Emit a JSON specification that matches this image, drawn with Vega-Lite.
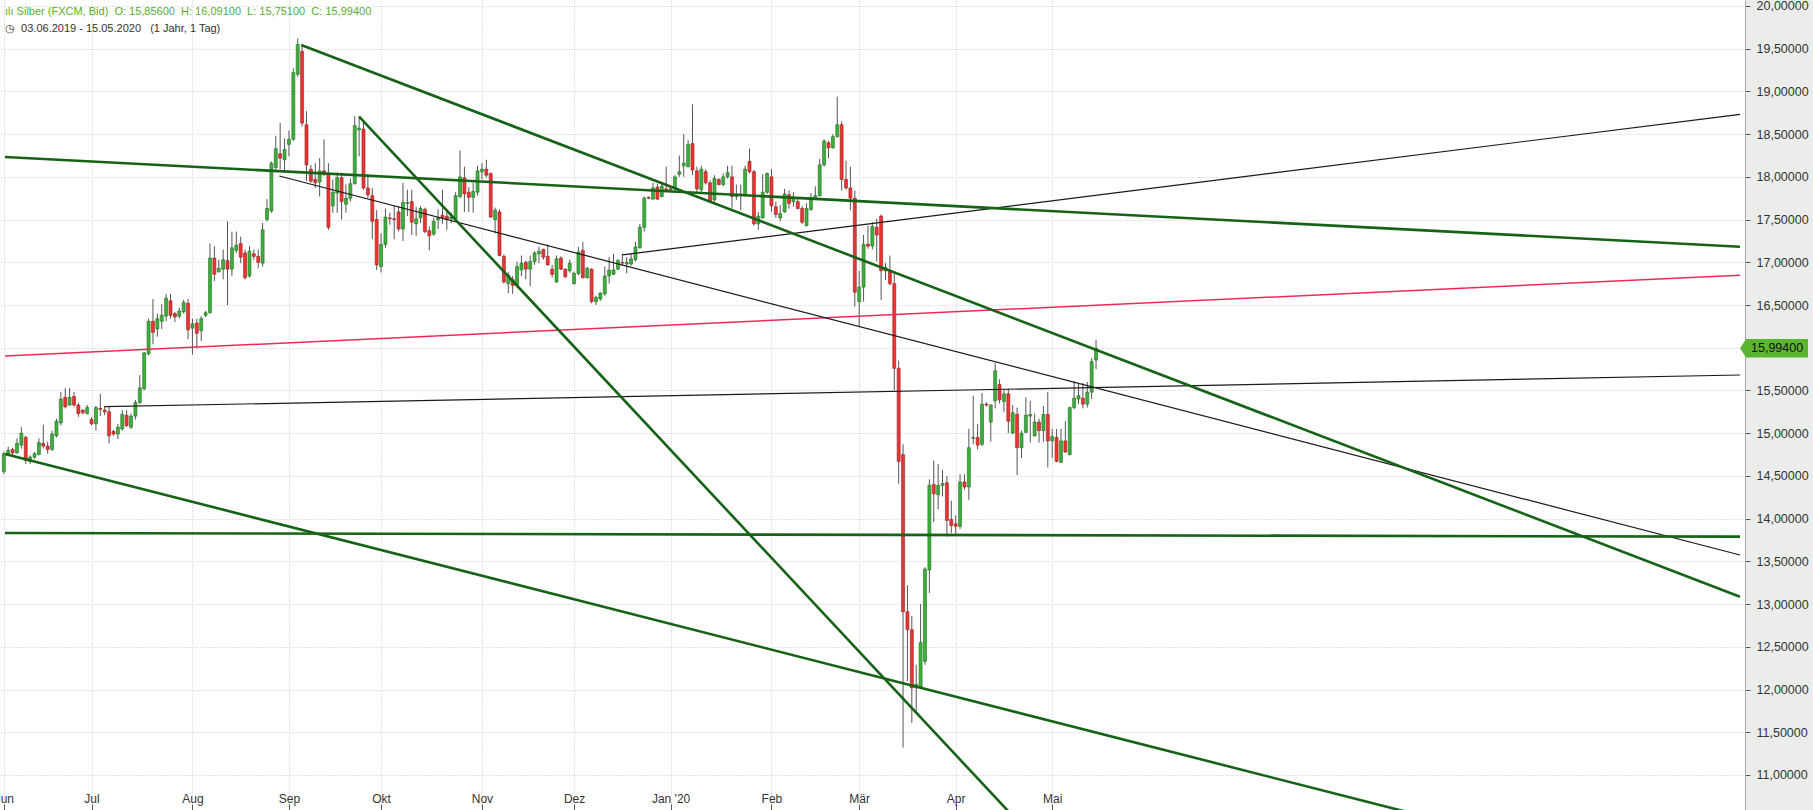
{
"$schema": "https://vega.github.io/schema/vega-lite/v6.json",
"width": 1745, "height": 810,
"autosize": {"type": "none"},
"padding": {"left": 0, "top": 0, "right": 68, "bottom": 0},
"background": "#ebedeb",
"title": {
 "text": "ılı Silber (FXCM, Bid)\u00a0\u00a0O: 15,85600\u00a0\u00a0H: 16,09100\u00a0\u00a0L: 15,75100\u00a0\u00a0C: 15,99400",
 "subtitle": "◷\u00a0\u00a003.06.2019 - 15.05.2020\u00a0\u00a0\u00a0(1 Jahr, 1 Tag)",
 "anchor": "start", "frame": "group", "orient": "top", "offset": -34, "dx": 5,
 "font": "Liberation Sans", "fontSize": 11, "fontWeight": "normal", "color": "#5aae2c",
 "subtitleFont": "Liberation Sans", "subtitleFontSize": 11, "subtitleColor": "#333333", "subtitlePadding": 6
},
"datasets": {
"candles": [
{"t":0,"o":14.55,"h":14.78,"l":14.52,"c":14.76},{"t":1,"o":14.76,"h":14.84,"l":14.74,"c":14.80},{"t":2,"o":14.81,"h":14.83,"l":14.74,"c":14.77},{"t":3,"o":14.77,"h":14.94,"l":14.76,"c":14.88},{"t":4,"o":14.86,"h":15.07,"l":14.82,"c":15.00},
{"t":5,"o":14.95,"h":14.97,"l":14.64,"c":14.68},{"t":6,"o":14.67,"h":14.74,"l":14.64,"c":14.72},{"t":7,"o":14.72,"h":14.78,"l":14.70,"c":14.76},{"t":8,"o":14.75,"h":14.94,"l":14.74,"c":14.89},{"t":9,"o":14.88,"h":15.10,"l":14.82,"c":14.85},
{"t":10,"o":14.85,"h":14.90,"l":14.76,"c":14.81},{"t":11,"o":14.81,"h":15.03,"l":14.79,"c":14.99},{"t":12,"o":14.97,"h":15.17,"l":14.95,"c":15.14},{"t":13,"o":15.12,"h":15.48,"l":15.09,"c":15.40},{"t":14,"o":15.42,"h":15.53,"l":15.29,"c":15.31},
{"t":15,"o":15.33,"h":15.53,"l":15.32,"c":15.42},{"t":16,"o":15.43,"h":15.48,"l":15.31,"c":15.33},{"t":17,"o":15.33,"h":15.36,"l":15.19,"c":15.23},{"t":18,"o":15.27,"h":15.28,"l":15.22,"c":15.24},{"t":19,"o":15.23,"h":15.33,"l":15.22,"c":15.30},
{"t":20,"o":15.16,"h":15.19,"l":15.09,"c":15.11},{"t":21,"o":15.11,"h":15.32,"l":15.03,"c":15.30},{"t":22,"o":15.29,"h":15.46,"l":15.20,"c":15.28},{"t":23,"o":15.27,"h":15.31,"l":15.21,"c":15.25},{"t":24,"o":15.25,"h":15.31,"l":14.88,"c":14.97},
{"t":25,"o":15.02,"h":15.04,"l":14.97,"c":14.99},{"t":26,"o":14.99,"h":15.11,"l":14.93,"c":15.07},{"t":27,"o":15.05,"h":15.27,"l":15.03,"c":15.22},{"t":28,"o":15.21,"h":15.27,"l":15.07,"c":15.09},{"t":29,"o":15.07,"h":15.23,"l":15.05,"c":15.20},
{"t":30,"o":15.20,"h":15.39,"l":15.16,"c":15.36},{"t":31,"o":15.36,"h":15.68,"l":15.34,"c":15.53},{"t":32,"o":15.52,"h":15.95,"l":15.50,"c":15.94},{"t":33,"o":15.93,"h":16.34,"l":15.91,"c":16.31},{"t":34,"o":16.31,"h":16.57,"l":16.04,"c":16.18},
{"t":35,"o":16.22,"h":16.40,"l":16.13,"c":16.34},{"t":36,"o":16.31,"h":16.51,"l":16.22,"c":16.38},{"t":37,"o":16.37,"h":16.63,"l":16.31,"c":16.58},{"t":38,"o":16.55,"h":16.63,"l":16.34,"c":16.38},{"t":39,"o":16.40,"h":16.42,"l":16.30,"c":16.36},
{"t":40,"o":16.37,"h":16.47,"l":16.34,"c":16.43},{"t":41,"o":16.42,"h":16.56,"l":16.40,"c":16.53},{"t":42,"o":16.52,"h":16.57,"l":16.10,"c":16.21},{"t":43,"o":16.23,"h":16.34,"l":15.92,"c":16.28},{"t":44,"o":16.29,"h":16.34,"l":15.99,"c":16.17},
{"t":45,"o":16.20,"h":16.37,"l":16.08,"c":16.34},{"t":46,"o":16.38,"h":16.43,"l":16.36,"c":16.41},{"t":47,"o":16.41,"h":17.22,"l":16.40,"c":17.05},{"t":48,"o":17.05,"h":17.19,"l":16.78,"c":16.86},{"t":49,"o":16.89,"h":17.03,"l":16.88,"c":16.93},
{"t":50,"o":16.92,"h":17.15,"l":16.80,"c":17.03},{"t":51,"o":17.02,"h":17.48,"l":16.50,"c":16.92},{"t":52,"o":16.92,"h":17.36,"l":16.84,"c":17.17},{"t":53,"o":17.14,"h":17.36,"l":17.11,"c":17.20},{"t":54,"o":17.22,"h":17.30,"l":16.99,"c":17.06},
{"t":55,"o":17.11,"h":17.15,"l":16.80,"c":16.82},{"t":56,"o":16.84,"h":17.19,"l":16.82,"c":17.13},{"t":57,"o":17.10,"h":17.15,"l":17.03,"c":17.07},{"t":58,"o":17.07,"h":17.15,"l":16.93,"c":17.00},{"t":59,"o":16.99,"h":17.46,"l":16.95,"c":17.38},
{"t":60,"o":17.50,"h":17.74,"l":17.48,"c":17.63},{"t":61,"o":17.60,"h":18.18,"l":17.58,"c":18.16},{"t":62,"o":18.11,"h":18.48,"l":18.07,"c":18.33},{"t":63,"o":18.27,"h":18.63,"l":18.09,"c":18.22},{"t":64,"o":18.20,"h":18.45,"l":18.05,"c":18.32},
{"t":65,"o":18.38,"h":18.54,"l":18.24,"c":18.44},{"t":66,"o":18.44,"h":19.27,"l":18.42,"c":19.22},{"t":67,"o":19.20,"h":19.62,"l":19.17,"c":19.55},{"t":68,"o":19.47,"h":19.55,"l":18.59,"c":18.63},{"t":69,"o":18.61,"h":18.77,"l":17.95,"c":18.14},
{"t":70,"o":18.09,"h":18.14,"l":17.93,"c":17.95},{"t":71,"o":17.97,"h":18.16,"l":17.87,"c":17.93},{"t":72,"o":17.94,"h":18.22,"l":17.77,"c":18.07},{"t":73,"o":18.07,"h":18.44,"l":18.01,"c":18.05},{"t":74,"o":18.03,"h":18.16,"l":17.38,"c":17.41},
{"t":75,"o":17.66,"h":17.97,"l":17.58,"c":17.82},{"t":76,"o":17.81,"h":18.05,"l":17.58,"c":17.99},{"t":77,"o":17.99,"h":18.05,"l":17.50,"c":17.71},{"t":78,"o":17.68,"h":17.91,"l":17.58,"c":17.75},{"t":79,"o":17.75,"h":17.98,"l":17.71,"c":17.92},
{"t":80,"o":17.92,"h":18.71,"l":17.91,"c":18.60},{"t":81,"o":18.55,"h":18.71,"l":18.24,"c":18.57},{"t":82,"o":18.56,"h":18.65,"l":17.85,"c":17.87},{"t":83,"o":17.87,"h":18.03,"l":17.75,"c":17.79},{"t":84,"o":17.78,"h":17.87,"l":17.27,"c":17.48},
{"t":85,"o":17.50,"h":17.61,"l":16.91,"c":16.97},{"t":86,"o":16.95,"h":17.34,"l":16.88,"c":17.21},{"t":87,"o":17.21,"h":17.63,"l":17.17,"c":17.53},{"t":88,"o":17.52,"h":17.58,"l":17.44,"c":17.51},{"t":89,"o":17.51,"h":17.66,"l":17.27,"c":17.50},
{"t":90,"o":17.59,"h":17.66,"l":17.36,"c":17.39},{"t":91,"o":17.39,"h":17.93,"l":17.25,"c":17.70},{"t":92,"o":17.69,"h":17.85,"l":17.54,"c":17.70},{"t":93,"o":17.71,"h":17.85,"l":17.32,"c":17.47},{"t":94,"o":17.45,"h":17.65,"l":17.31,"c":17.51},
{"t":95,"o":17.52,"h":17.66,"l":17.46,"c":17.63},{"t":96,"o":17.62,"h":17.64,"l":17.34,"c":17.36},{"t":97,"o":17.37,"h":17.42,"l":17.14,"c":17.31},{"t":98,"o":17.33,"h":17.52,"l":17.31,"c":17.48},{"t":99,"o":17.50,"h":17.62,"l":17.39,"c":17.52},
{"t":100,"o":17.55,"h":17.85,"l":17.45,"c":17.52},{"t":101,"o":17.54,"h":17.62,"l":17.38,"c":17.50},{"t":102,"o":17.51,"h":17.58,"l":17.46,"c":17.53},{"t":103,"o":17.51,"h":17.82,"l":17.49,"c":17.78},{"t":104,"o":17.77,"h":18.31,"l":17.75,"c":18.00},
{"t":105,"o":17.99,"h":18.12,"l":17.59,"c":17.80},{"t":106,"o":17.82,"h":17.88,"l":17.59,"c":17.76},{"t":107,"o":17.76,"h":17.93,"l":17.58,"c":17.83},{"t":108,"o":17.82,"h":18.13,"l":17.78,"c":18.07},{"t":109,"o":18.06,"h":18.16,"l":17.97,"c":18.09},
{"t":110,"o":18.09,"h":18.20,"l":17.99,"c":18.02},{"t":111,"o":18.04,"h":18.05,"l":17.52,"c":17.53},{"t":112,"o":17.50,"h":17.64,"l":17.34,"c":17.61},{"t":113,"o":17.59,"h":17.62,"l":17.07,"c":17.08},{"t":114,"o":17.07,"h":17.09,"l":16.75,"c":16.77},
{"t":115,"o":16.75,"h":16.89,"l":16.64,"c":16.85},{"t":116,"o":16.80,"h":16.84,"l":16.63,"c":16.73},{"t":117,"o":16.73,"h":17.01,"l":16.72,"c":16.95},{"t":118,"o":16.91,"h":17.08,"l":16.84,"c":16.99},{"t":119,"o":17.00,"h":17.02,"l":16.80,"c":16.92},
{"t":120,"o":16.92,"h":17.08,"l":16.72,"c":17.01},{"t":121,"o":17.01,"h":17.13,"l":16.97,"c":17.11},{"t":122,"o":17.10,"h":17.18,"l":16.99,"c":17.13},{"t":123,"o":17.15,"h":17.16,"l":17.03,"c":17.06},{"t":124,"o":17.07,"h":17.21,"l":16.96,"c":16.97},
{"t":125,"o":16.92,"h":16.97,"l":16.82,"c":16.86},{"t":126,"o":16.77,"h":17.08,"l":16.76,"c":17.04},{"t":127,"o":17.05,"h":17.07,"l":16.91,"c":16.92},{"t":128,"o":16.92,"h":16.93,"l":16.82,"c":16.83},{"t":129,"o":16.90,"h":17.03,"l":16.88,"c":16.99},
{"t":130,"o":16.75,"h":16.89,"l":16.74,"c":16.87},{"t":131,"o":16.87,"h":17.18,"l":16.85,"c":17.12},{"t":132,"o":17.14,"h":17.24,"l":16.81,"c":16.82},{"t":133,"o":16.82,"h":16.95,"l":16.81,"c":16.93},{"t":134,"o":16.92,"h":16.93,"l":16.52,"c":16.54},
{"t":135,"o":16.54,"h":16.61,"l":16.50,"c":16.59},{"t":136,"o":16.57,"h":16.65,"l":16.55,"c":16.64},{"t":137,"o":16.63,"h":16.95,"l":16.61,"c":16.84},{"t":138,"o":16.84,"h":17.06,"l":16.75,"c":16.91},{"t":139,"o":16.86,"h":17.10,"l":16.85,"c":16.91},
{"t":140,"o":16.92,"h":17.04,"l":16.91,"c":17.02},{"t":141,"o":17.00,"h":17.10,"l":16.96,"c":16.99},{"t":142,"o":16.98,"h":17.06,"l":16.87,"c":17.00},{"t":143,"o":16.98,"h":17.10,"l":16.96,"c":17.04},{"t":144,"o":17.03,"h":17.24,"l":17.01,"c":17.18},
{"t":145,"o":17.17,"h":17.45,"l":17.16,"c":17.41},{"t":146,"o":17.41,"h":17.77,"l":17.36,"c":17.75},{"t":147,"o":17.76,"h":17.77,"l":17.74,"c":17.75},{"t":148,"o":17.74,"h":17.93,"l":17.73,"c":17.87},{"t":149,"o":17.88,"h":17.92,"l":17.73,"c":17.74},
{"t":150,"o":17.77,"h":17.94,"l":17.76,"c":17.89},{"t":151,"o":17.86,"h":18.12,"l":17.82,"c":17.84},{"t":152,"o":17.86,"h":17.88,"l":17.84,"c":17.85},{"t":153,"o":17.86,"h":18.02,"l":17.82,"c":18.00},{"t":154,"o":18.03,"h":18.25,"l":18.00,"c":18.06},
{"t":155,"o":18.13,"h":18.50,"l":18.00,"c":18.16},{"t":156,"o":18.12,"h":18.43,"l":18.11,"c":18.38},{"t":157,"o":18.39,"h":18.85,"l":18.02,"c":18.08},{"t":158,"o":18.07,"h":18.12,"l":17.82,"c":17.86},{"t":159,"o":17.85,"h":18.13,"l":17.82,"c":18.09},
{"t":160,"o":18.06,"h":18.09,"l":17.91,"c":17.93},{"t":161,"o":17.93,"h":17.96,"l":17.70,"c":17.71},{"t":162,"o":17.73,"h":18.02,"l":17.71,"c":17.98},{"t":163,"o":17.97,"h":17.98,"l":17.90,"c":17.91},{"t":164,"o":17.91,"h":18.04,"l":17.89,"c":18.00},
{"t":165,"o":18.00,"h":18.13,"l":17.98,"c":18.05},{"t":166,"o":18.00,"h":18.13,"l":17.63,"c":17.77},{"t":167,"o":17.77,"h":17.91,"l":17.73,"c":17.80},{"t":168,"o":17.80,"h":17.91,"l":17.61,"c":17.78},{"t":169,"o":17.78,"h":18.13,"l":17.77,"c":18.09},
{"t":170,"o":18.18,"h":18.33,"l":18.04,"c":18.06},{"t":171,"o":18.06,"h":18.08,"l":17.43,"c":17.45},{"t":172,"o":17.45,"h":17.59,"l":17.38,"c":17.54},{"t":173,"o":17.52,"h":18.03,"l":17.51,"c":17.82},{"t":174,"o":17.82,"h":18.05,"l":17.80,"c":18.04},
{"t":175,"o":18.00,"h":18.09,"l":17.59,"c":17.66},{"t":176,"o":17.65,"h":17.71,"l":17.52,"c":17.56},{"t":177,"o":17.52,"h":17.67,"l":17.48,"c":17.57},{"t":178,"o":17.59,"h":17.86,"l":17.58,"c":17.80},{"t":179,"o":17.79,"h":17.84,"l":17.63,"c":17.69},
{"t":180,"o":17.71,"h":17.82,"l":17.65,"c":17.75},{"t":181,"o":17.71,"h":17.74,"l":17.62,"c":17.63},{"t":182,"o":17.63,"h":17.66,"l":17.45,"c":17.47},{"t":183,"o":17.43,"h":17.69,"l":17.42,"c":17.63},{"t":184,"o":17.62,"h":17.81,"l":17.60,"c":17.76},
{"t":185,"o":17.74,"h":17.89,"l":17.73,"c":17.78},{"t":186,"o":17.78,"h":18.21,"l":17.77,"c":18.14},{"t":187,"o":18.14,"h":18.44,"l":18.12,"c":18.42},{"t":188,"o":18.40,"h":18.42,"l":18.22,"c":18.34},{"t":189,"o":18.34,"h":18.50,"l":18.33,"c":18.47},
{"t":190,"o":18.47,"h":18.94,"l":18.46,"c":18.61},{"t":191,"o":18.61,"h":18.65,"l":17.84,"c":17.97},{"t":192,"o":17.97,"h":18.19,"l":17.85,"c":17.87},{"t":193,"o":17.87,"h":18.12,"l":17.61,"c":17.75},{"t":194,"o":17.75,"h":17.84,"l":16.48,"c":16.65},
{"t":195,"o":16.54,"h":16.90,"l":16.25,"c":16.71},{"t":196,"o":16.71,"h":17.32,"l":16.54,"c":17.21},{"t":197,"o":17.21,"h":17.43,"l":17.16,"c":17.19},{"t":198,"o":17.19,"h":17.47,"l":17.15,"c":17.42},{"t":199,"o":17.41,"h":17.51,"l":17.01,"c":17.32},
{"t":200,"o":17.54,"h":17.56,"l":16.56,"c":16.90},{"t":201,"o":16.90,"h":16.99,"l":16.79,"c":16.94},{"t":202,"o":16.89,"h":17.08,"l":16.73,"c":16.75},{"t":203,"o":16.75,"h":16.89,"l":15.50,"c":15.76},{"t":204,"o":15.76,"h":15.85,"l":14.41,"c":14.67},
{"t":205,"o":14.75,"h":14.87,"l":11.32,"c":12.91},{"t":206,"o":12.91,"h":13.22,"l":12.10,"c":12.70},{"t":207,"o":12.70,"h":12.86,"l":11.61,"c":12.02},{"t":208,"o":12.02,"h":12.29,"l":11.73,"c":12.06},{"t":209,"o":12.03,"h":13.00,"l":12.02,"c":12.55},
{"t":210,"o":12.33,"h":13.43,"l":12.29,"c":13.41},{"t":211,"o":13.40,"h":14.46,"l":13.13,"c":14.39},{"t":212,"o":14.40,"h":14.68,"l":13.96,"c":14.29},{"t":213,"o":14.28,"h":14.64,"l":14.11,"c":14.39},{"t":214,"o":14.39,"h":14.57,"l":14.26,"c":14.41},
{"t":215,"o":14.42,"h":14.50,"l":13.79,"c":13.98},{"t":216,"o":13.99,"h":14.21,"l":13.83,"c":13.92},{"t":217,"o":13.94,"h":14.04,"l":13.80,"c":13.91},{"t":218,"o":13.91,"h":14.52,"l":13.88,"c":14.43},{"t":219,"o":14.43,"h":14.52,"l":14.34,"c":14.37},
{"t":220,"o":14.37,"h":15.05,"l":14.22,"c":14.83},{"t":221,"o":14.94,"h":15.44,"l":14.87,"c":14.95},{"t":222,"o":14.95,"h":15.11,"l":14.81,"c":14.86},{"t":223,"o":14.87,"h":15.47,"l":14.85,"c":15.34},{"t":224,"o":15.34,"h":15.36,"l":15.31,"c":15.33},
{"t":225,"o":15.13,"h":15.34,"l":14.90,"c":15.33},{"t":226,"o":15.38,"h":15.82,"l":15.29,"c":15.73},{"t":227,"o":15.57,"h":15.63,"l":15.35,"c":15.39},{"t":228,"o":15.37,"h":15.52,"l":15.25,"c":15.46},{"t":229,"o":15.46,"h":15.52,"l":15.00,"c":15.14},
{"t":230,"o":15.00,"h":15.33,"l":14.99,"c":15.24},{"t":231,"o":15.22,"h":15.30,"l":14.51,"c":14.83},{"t":232,"o":14.83,"h":15.03,"l":14.71,"c":15.00},{"t":233,"o":15.01,"h":15.42,"l":15.00,"c":15.21},{"t":234,"o":15.20,"h":15.38,"l":14.89,"c":15.22},
{"t":235,"o":14.97,"h":15.23,"l":14.96,"c":15.13},{"t":236,"o":15.13,"h":15.17,"l":14.89,"c":15.03},{"t":237,"o":15.03,"h":15.32,"l":14.90,"c":15.22},{"t":238,"o":15.22,"h":15.48,"l":14.60,"c":14.91},{"t":239,"o":14.91,"h":15.05,"l":14.71,"c":14.96},
{"t":240,"o":14.95,"h":15.05,"l":14.66,"c":14.67},{"t":241,"o":14.66,"h":15.05,"l":14.65,"c":14.91},{"t":242,"o":14.91,"h":15.14,"l":14.77,"c":14.78},{"t":243,"o":14.75,"h":15.31,"l":14.74,"c":15.30},{"t":244,"o":15.30,"h":15.61,"l":15.28,"c":15.41},
{"t":245,"o":15.40,"h":15.58,"l":15.34,"c":15.44},{"t":246,"o":15.41,"h":15.59,"l":15.29,"c":15.34},{"t":247,"o":15.34,"h":15.60,"l":15.30,"c":15.48},{"t":248,"o":15.48,"h":15.88,"l":15.40,"c":15.84},{"t":249,"o":15.856,"h":16.091,"l":15.751,"c":15.994}
],
"lines": [
{"id":"L1","kind":"g","t":0.27,"p":18.233},{"id":"L1","kind":"g","t":395.8,"p":17.183},
{"id":"L2","kind":"g","t":67.8,"p":19.544},{"id":"L2","kind":"g","t":395.8,"p":13.086},
{"id":"L3","kind":"g","t":81.0,"p":18.704},{"id":"L3","kind":"g","t":260,"p":8.873},
{"id":"L4","kind":"g","t":0.27,"p":14.757},{"id":"L4","kind":"g","t":395.8,"p":9.572},
{"id":"L5","kind":"g","t":0.27,"p":13.832},{"id":"L5","kind":"g","t":395.8,"p":13.789},
{"id":"L6","kind":"r","t":0.27,"p":15.904},{"id":"L6","kind":"r","t":395.8,"p":16.848},
{"id":"L7","kind":"k","t":22.9,"p":15.310},{"id":"L7","kind":"k","t":395.8,"p":15.681},
{"id":"L8","kind":"k","t":62.8,"p":18.010},{"id":"L8","kind":"k","t":395.8,"p":13.574},
{"id":"L9","kind":"k","t":141.0,"p":17.086},{"id":"L9","kind":"k","t":395.8,"p":18.732}
]
},
"encoding": {
 "x": {"field": "t", "type": "quantitative", "title": null,
  "scale": {"domain": [0.27, 395.8], "nice": false, "zero": false},
  "axis": {"orient": "bottom", "values": [0,20,43,65,86,109,130,152,175,195,217,239],
   "labelExpr": "datum.value == 0 ? 'Jun' : datum.value == 20 ? 'Jul' : datum.value == 43 ? 'Aug' : datum.value == 65 ? 'Sep' : datum.value == 86 ? 'Okt' : datum.value == 109 ? 'Nov' : datum.value == 130 ? 'Dez' : datum.value == 152 ? \"Jan '20\" : datum.value == 175 ? 'Feb' : datum.value == 195 ? 'Mär' : datum.value == 217 ? 'Apr' : 'Mai'",
   "grid": true, "gridColor": "#c8c8c8", "gridDash": [1, 2], "gridWidth": 1,
   "domain": false, "ticks": true, "tickSize": -6, "tickColor": "#555555", "tickWidth": 1,
   "labelPadding": -6, "labelBaseline": "middle", "labelFlush": false, "labelOverlap": false, "labelBound": false,
   "labelFont": "Liberation Sans", "labelFontSize": 12, "labelColor": "#333333", "zindex": 0}}
},
"layer": [
 {"data": {"name": "candles"},
  "mark": {"type": "rule", "color": "#555555", "strokeWidth": 1},
  "encoding": {
   "y": {"field": "l", "type": "quantitative", "title": null,
    "scale": {"domain": [10.59, 20.07], "nice": false, "zero": false},
    "axis": {"orient": "right", "values": [11,11.5,12,12.5,13,13.5,14,14.5,15,15.5,16,16.5,17,17.5,18,18.5,19,19.5,20],
     "format": ".5f", "labelExpr": "datum.value == 16 ? '' : datum.label",
     "grid": true, "gridColor": "#c8c8c8", "gridDash": [1, 2], "gridWidth": 1,
     "domain": true, "domainColor": "#a8a8a8", "domainWidth": 1, "tickColor": "#555555", "tickSize": 5,
     "labelPadding": 6, "labelFont": "Liberation Sans", "labelFontSize": 12.5, "labelColor": "#333333", "labelBaseline": "middle", "zindex": 0}},
   "y2": {"field": "h"}}},
 {"data": {"name": "candles"},
  "mark": {"type": "bar", "size": 3, "strokeWidth": 0.6},
  "encoding": {
   "y": {"field": "o", "type": "quantitative", "title": null},
   "y2": {"field": "c"},
   "fill": {"condition": {"test": "datum.c >= datum.o", "value": "#3fae3f"}, "value": "#ea3535"},
   "stroke": {"condition": {"test": "datum.c >= datum.o", "value": "#1d6e1d"}, "value": "#9c1a1a"}}},
 {"data": {"name": "lines"}, "transform": [{"filter": "datum.kind == 'r'"}],
  "mark": {"type": "line", "clip": true, "color": "#f0285a", "strokeWidth": 1.5},
  "encoding": {"y": {"field": "p", "type": "quantitative", "title": null}, "detail": {"field": "id"}}},
 {"data": {"name": "lines"}, "transform": [{"filter": "datum.kind == 'k'"}],
  "mark": {"type": "line", "clip": true, "color": "#1a1a1a", "strokeWidth": 1.2},
  "encoding": {"y": {"field": "p", "type": "quantitative", "title": null}, "detail": {"field": "id"}}},
 {"data": {"name": "lines"}, "transform": [{"filter": "datum.kind == 'g'"}],
  "mark": {"type": "line", "clip": true, "color": "#166216", "strokeWidth": 2.6},
  "encoding": {"y": {"field": "p", "type": "quantitative", "title": null}, "detail": {"field": "id"}}},
 {"data": {"name": "candles"}, "transform": [{"filter": "datum.t == 249"}],
  "mark": {"type": "point", "shape": "M-1,0L-0.82,-0.274L1,-0.274L1,0.274L-0.82,0.274Z", "size": 4624, "filled": true, "color": "#5cb531", "opacity": 1, "xOffset": 34},
  "encoding": {"x": {"datum": 395.8}, "y": {"field": "c", "type": "quantitative", "title": null}}},
 {"data": {"name": "candles"}, "transform": [{"filter": "datum.t == 249"}],
  "mark": {"type": "text", "align": "left", "baseline": "middle", "dx": 11, "font": "Liberation Sans", "fontSize": 12.5, "color": "#111111"},
  "encoding": {"x": {"datum": 395.8}, "y": {"field": "c", "type": "quantitative", "title": null}, "text": {"field": "c", "type": "quantitative", "format": ".5f"}}}
],
"config": {
 "view": {"fill": "#ffffff", "stroke": null},
 "locale": {"number": {"decimal": ",", "thousands": ".", "grouping": [3], "currency": ["", " €"]}}
}
}
